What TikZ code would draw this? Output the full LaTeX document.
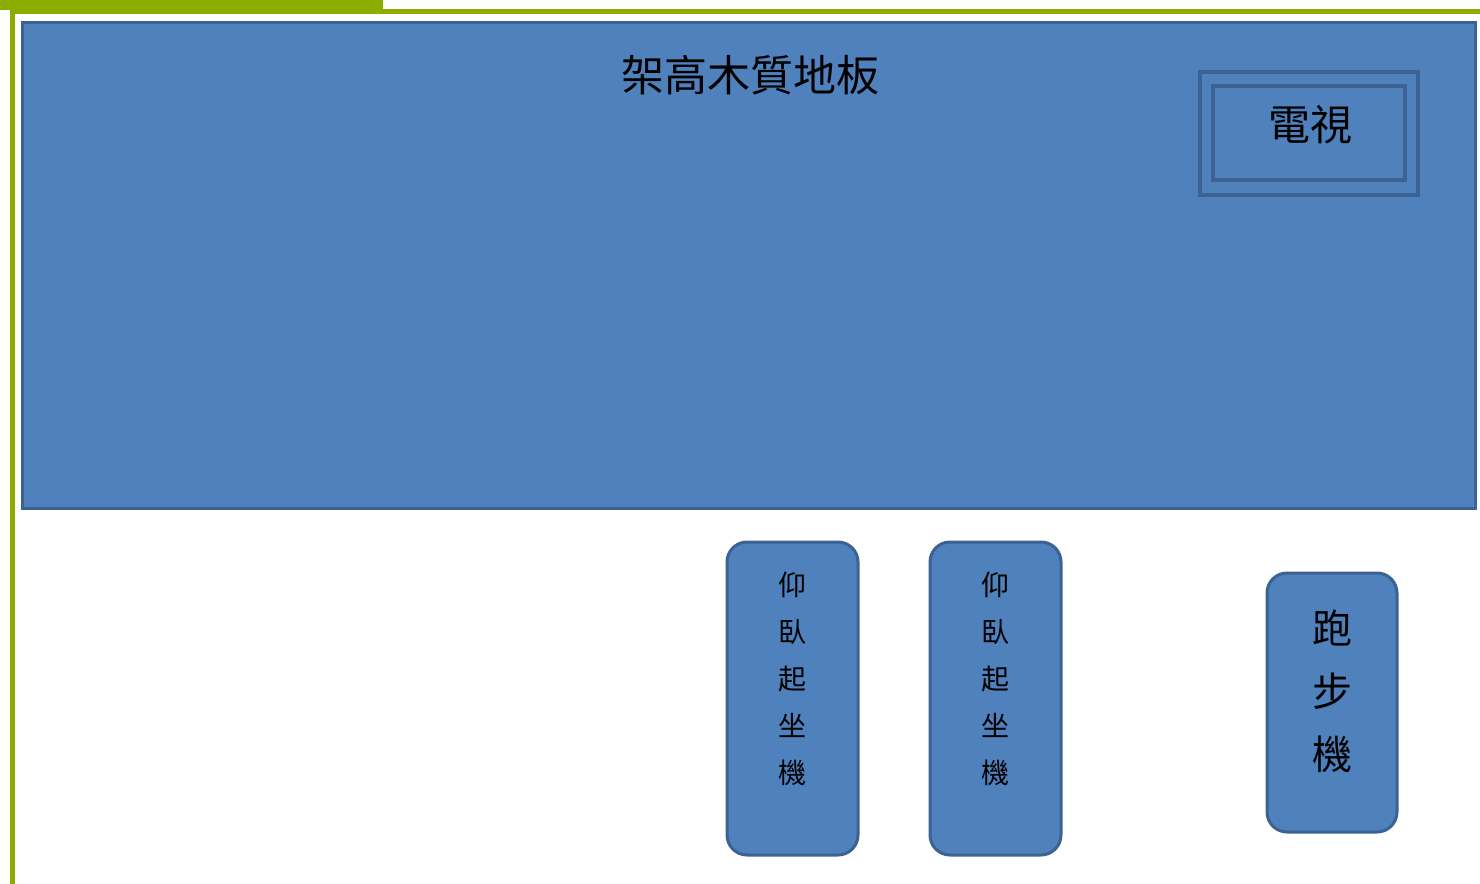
\documentclass[tikz,border=0pt]{standalone}
\usepackage{fontspec}
\newfontfamily\cjk{Noto Sans CJK TC}
\usepackage{xcolor}
\definecolor{barGreen}{HTML}{8CAC00}
\definecolor{roomBlue}{HTML}{4F81BD}
\definecolor{edgeBlue}{HTML}{3B6293}
\tikzset{
    floorbox/.style={draw=edgeBlue, fill=roomBlue, line width=1.5pt}, % the raised floor
    tvbox/.style={draw=edgeBlue, line width=2pt},
    machine/.style={draw=edgeBlue, fill=roomBlue, line width=1.5pt, rounded corners=10pt},
    label/.style={font=\cjk, text=black, align=center, inner sep=0pt},
}

\begin{document}
\begin{tikzpicture}[x=0.5pt, y=-0.5pt]
    \useasboundingbox (0,0) rectangle (1480,884);
    % green frame
    \fill[barGreen] (0,0) rectangle (383,10);
    \fill[barGreen] (10,9) rectangle (1480,14);
    \fill[barGreen] (10,0) rectangle (15,884);

    \node[floorbox, minimum width=726.5pt, minimum height=243pt] (floor) at (748.5,265) {};
    \node[label, font=\cjk\fontsize{21.5}{24}\selectfont] (floortitle) at (750,75) {架高木質地板};

    \node[tvbox, minimum width=109pt, minimum height=61.5pt] (tvout) at (1309,133.5) {};
    \node[tvbox, minimum width=96pt, minimum height=47pt] (tvin) at (1309,133) {};
    \node[label, font=\cjk\fontsize{21}{24}\selectfont] (tv) at (1310,125) {電視};

    \foreach \x/\n in {792.5/1, 995.5/2}{
        \node[machine, minimum width=65.5pt, minimum height=156.5pt] (situp\n) at (\x,698.5) {};
        \node[label, font=\cjk\fontsize{14}{23.5}\selectfont] (situptext\n) at (\x,679) {仰\\臥\\起\\坐\\機};
    }

    \node[machine, minimum width=65pt, minimum height=129.5pt] (treadmill) at (1332,702.5) {};
    \node[label, font=\cjk\fontsize{20}{31.5}\selectfont] (treadmilltext) at (1332,691) {跑\\步\\機};
\end{tikzpicture}
\end{document}
